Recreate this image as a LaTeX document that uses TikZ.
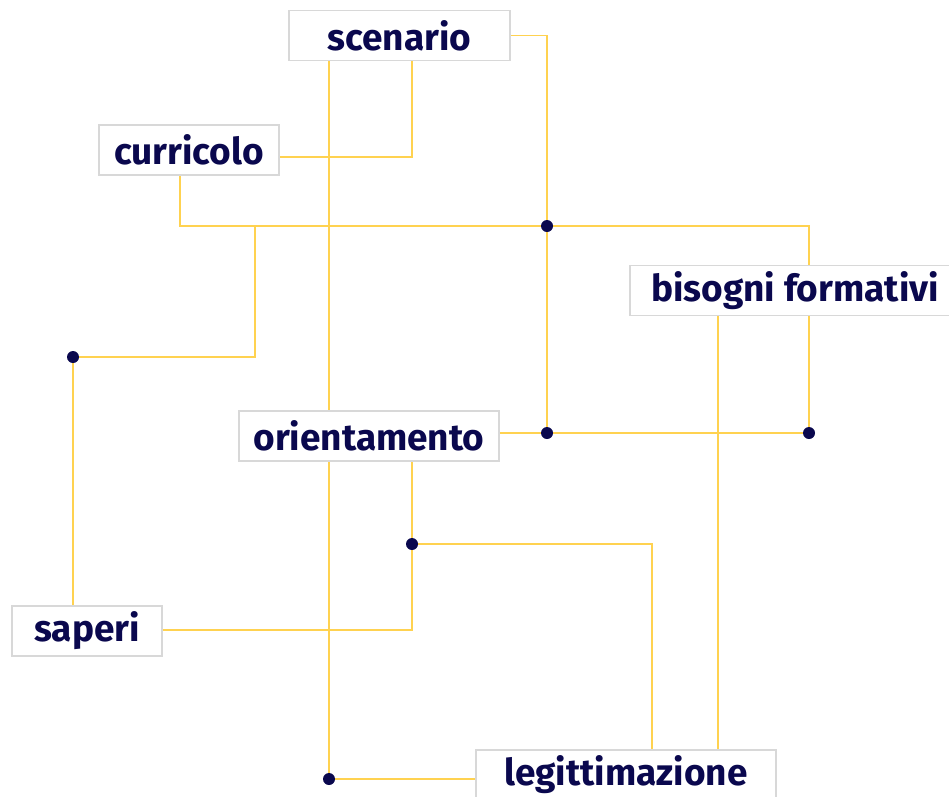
\documentclass[tikz,border=0pt]{standalone}
\usepackage{fontspec}
\setmainfont{Fira Sans}
\usepackage{tikz}
\usetikzlibrary{backgrounds}
\usepackage{color}
\definecolor{Navy-1}{RGB}{10,8,78}
\definecolor{Gold-1}{RGB}{255,210,80}
\definecolor{Gray-1}{RGB}{216,216,216}

\begin{document}
\begin{tikzpicture}[x=1pt, y=-1pt]
    \tikzset{ box/.style ={draw=Gray-1, line width=1.3pt, fill=white, text=Navy-1, font=\bfseries\fontsize{37}{40}\selectfont, minimum height=50pt, inner sep=0pt} }
    \tikzset{ lnk/.style ={draw=Gold-1, line width=1.4pt} }
    \tikzset{ dot/.style ={circle, fill=Navy-1, inner sep=0pt, minimum size=12pt} }

    \useasboundingbox (0,0) rectangle (949,796);

    \node[box, minimum width=221pt] (scen) at (399.5, 35.5) {scenario};
    \node[box, minimum width=180pt] (curr) at (189.0,150.0) {curricolo};
    \node[box, minimum width=330pt] (biso) at (795.0,290.5) {bisogni formativi};
    \node[box, minimum width=260pt] (orie) at (369.0,436.0) {orientamento};
    \node[box, minimum width=150pt] (sape) at ( 87.0,631.0) {saperi};
    \node[box, minimum width=300pt] (legi) at (626.0,775.0) {legittimazione};

    \node[dot] (d1) at (547,226) {};
    \node[dot] (d2) at ( 73,357) {};
    \node[dot] (d3) at (547,433) {};
    \node[dot] (d4) at (809,433) {};
    \node[dot] (d5) at (412,544) {};
    \node[dot] (d6) at (329,779) {};
    \coordinate (k1) at (255,226);
    \coordinate (k2) at (652,544);

    \begin{scope}[on background layer]
    \draw[lnk] (scen.east) -| (d1) -- (d3);
    \draw[lnk] (scen.south -| d6) -- (d6) -- (d6 -| legi.west);
    \draw[lnk] (scen.south -| d5) |- ([yshift=-7pt]curr.east);
    \draw[lnk] ([xshift=-9pt]curr.south) |- (d1) -| (biso.north -| d4);
    \draw[lnk] (biso.south -| d4) -- (d4);
    \draw[lnk] (orie.east |- d3) -- (d4);
    \draw[lnk] (k1) |- (d2) -- (sape.north -| d2);
    \draw[lnk] ([yshift=1pt]sape.east) -| (orie.south -| d5);
    \draw[lnk] (d5) -- (k2) -- (k2 |- legi.north);
    \draw[lnk] ([xshift=-77pt]biso.south) -- ([xshift=-77pt]biso.south |- legi.north);
    \end{scope}
\end{tikzpicture}
\end{document}
